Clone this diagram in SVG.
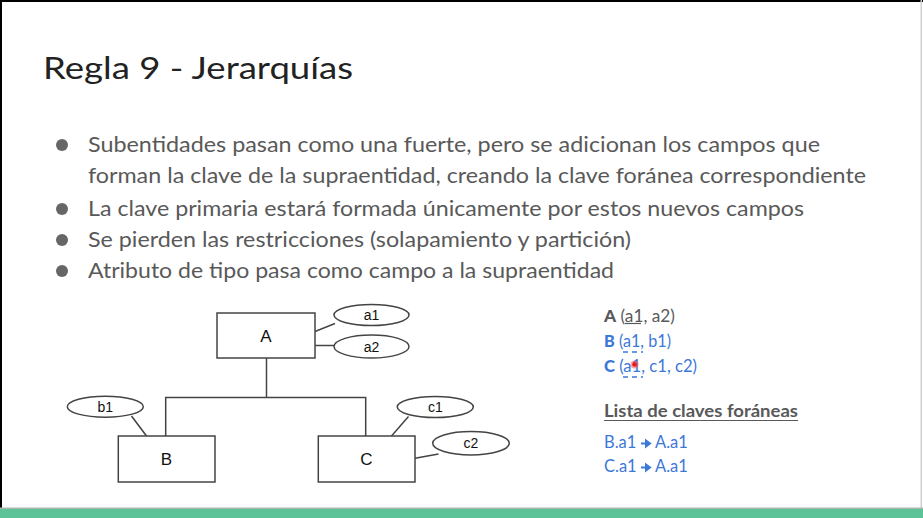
<svg xmlns="http://www.w3.org/2000/svg" width="923" height="518" viewBox="0 0 923 518">
  <style>
    .title { font-family: "Lato", "Open Sans", sans-serif; font-size: 31px; fill: #222222; }
    .bullet-text { font-family: "Lato", "Open Sans", sans-serif; font-size: 21px; fill: #595959; }
    .dot { fill: #666666; }
    .ent { fill: #ffffff; stroke: #444444; stroke-width: 1.5; }
    .attr { fill: #ffffff; stroke: #444444; stroke-width: 1.5; }
    .lbl { font-family: "Liberation Sans", Arial, sans-serif; fill: #111111; text-anchor: middle; }
    .ent-lbl { font-size: 17px; }
    .attr-lbl { font-size: 14px; }
    .conn { stroke: #444444; stroke-width: 1.5; fill: none; }
    .rel { font-family: "Lato", "Open Sans", sans-serif; font-size: 16.5px; }
    .gray { fill: #595959; }
    .blue { fill: #3c78d8; }
    .ul-gray { stroke: #595959; stroke-width: 1.2; }
    .ul-blue { stroke: #3c78d8; stroke-width: 1.5; stroke-dasharray: 5 4; }
  </style>

  <!-- slide background and frame -->
  <rect x="0" y="0" width="923" height="518" fill="#ffffff"/>
  <rect x="0" y="0" width="923" height="2" fill="#000000"/>
  <rect x="0" y="0" width="2" height="518" fill="#000000"/>
  <rect x="920.5" y="0" width="1.5" height="518" fill="#d0d0d0"/>
  <rect x="0" y="507.5" width="923" height="1.5" fill="#a8b8b0"/>
  <rect x="0" y="509" width="923" height="9" fill="#5cc398"/>

  <!-- heading -->
  <text class="title" x="43" y="79" textLength="310" lengthAdjust="spacingAndGlyphs">Regla 9 - Jerarquías</text>

  <!-- bullet list -->
  <g id="bullets">
    <circle class="dot" cx="62" cy="145" r="6"/>
    <text class="bullet-text" x="88" y="152" textLength="732" lengthAdjust="spacingAndGlyphs">Subentidades pasan como una fuerte, pero se adicionan los campos que</text>
    <text class="bullet-text" x="88" y="183" textLength="778" lengthAdjust="spacingAndGlyphs">forman la clave de la supraentidad, creando la clave foránea correspondiente</text>
    <circle class="dot" cx="62" cy="209" r="6"/>
    <text class="bullet-text" x="88" y="215.5" textLength="716" lengthAdjust="spacingAndGlyphs">La clave primaria estará formada únicamente por estos nuevos campos</text>
    <circle class="dot" cx="62" cy="240" r="6"/>
    <text class="bullet-text" x="88" y="247" textLength="543" lengthAdjust="spacingAndGlyphs">Se pierden las restricciones (solapamiento y partición)</text>
    <circle class="dot" cx="62" cy="271" r="6"/>
    <text class="bullet-text" x="88" y="278" textLength="526" lengthAdjust="spacingAndGlyphs">Atributo de tipo pasa como campo a la supraentidad</text>
  </g>

  <!-- connectors of the hierarchy diagram -->
  <g id="connectors">
    <line class="conn" x1="315" y1="331.5" x2="335" y2="323.5"/>
    <line class="conn" x1="315" y1="345.5" x2="334" y2="345.5"/>
    <line class="conn" x1="266.5" y1="358" x2="266.5" y2="397.5"/>
    <polyline class="conn" points="165.7,436 165.7,397.5 365.7,397.5 365.7,436"/>
    <line class="conn" x1="131.5" y1="416" x2="146.5" y2="436"/>
    <line class="conn" x1="408.5" y1="416.5" x2="391.5" y2="436"/>
    <line class="conn" x1="415" y1="458.3" x2="438.5" y2="454"/>
  </g>

  <!-- entities -->
  <g id="entity-A">
    <rect class="ent" x="217" y="313" width="98" height="45"/>
    <text class="lbl ent-lbl" x="266" y="342">A</text>
  </g>
  <g id="entity-B">
    <rect class="ent" x="118.3" y="436" width="96.7" height="46"/>
    <text class="lbl ent-lbl" x="166.5" y="465">B</text>
  </g>
  <g id="entity-C">
    <rect class="ent" x="318.3" y="436" width="96.7" height="46"/>
    <text class="lbl ent-lbl" x="366.5" y="465">C</text>
  </g>

  <!-- attributes -->
  <g id="attr-a1">
    <ellipse class="attr" cx="371.5" cy="315" rx="37.5" ry="10.5"/>
    <text class="lbl attr-lbl" x="371.5" y="320">a1</text>
  </g>
  <g id="attr-a2">
    <ellipse class="attr" cx="371.5" cy="346.5" rx="37.5" ry="11.5"/>
    <text class="lbl attr-lbl" x="371.5" y="351.5">a2</text>
  </g>
  <g id="attr-b1">
    <ellipse class="attr" cx="105.3" cy="406.7" rx="38" ry="10.5"/>
    <text class="lbl attr-lbl" x="105.3" y="411.7">b1</text>
  </g>
  <g id="attr-c1">
    <ellipse class="attr" cx="435.3" cy="407" rx="38" ry="10.5"/>
    <text class="lbl attr-lbl" x="435.3" y="412">c1</text>
  </g>
  <g id="attr-c2">
    <ellipse class="attr" cx="471" cy="443.3" rx="38.3" ry="11.7"/>
    <text class="lbl attr-lbl" x="471" y="448.3">c2</text>
  </g>

  <!-- relational schema -->
  <g id="schema">
    <text class="rel gray" x="604" y="322" textLength="71" lengthAdjust="spacingAndGlyphs"><tspan font-weight="900">A</tspan> (a1, a2)</text>
    <line class="ul-gray" x1="625" y1="323.5" x2="641" y2="323.5"/>
    <text class="rel blue" x="604" y="347" textLength="67" lengthAdjust="spacingAndGlyphs"><tspan font-weight="900">B</tspan> (a1, b1)</text>
    <line class="ul-blue" x1="623" y1="352" x2="643" y2="352"/>
    <text class="rel blue" x="604" y="372" textLength="93" lengthAdjust="spacingAndGlyphs"><tspan font-weight="900">C</tspan> (a1, c1, c2)</text>
    <line class="ul-blue" x1="623" y1="377" x2="643" y2="377"/>
    <circle cx="634.5" cy="364.5" r="4" fill="#ff4a4a" opacity="0.5"/>
    <circle cx="634.5" cy="364.5" r="2.3" fill="#e81818"/>
  </g>

  <!-- foreign key list -->
  <g id="fk-list">
    <text class="rel gray" x="604" y="417" font-weight="bold" textLength="194" lengthAdjust="spacingAndGlyphs">Lista de claves foráneas</text>
    <line class="ul-gray" x1="604" y1="420.5" x2="798" y2="420.5"/>
    <text class="rel blue" x="604" y="448">B.a1</text>
    <path d="M641,443.5 h6 M646,440.5 l4,3 l-4,3 z" stroke="#3c78d8" stroke-width="2" fill="#3c78d8"/>
    <text class="rel blue" x="655" y="448">A.a1</text>
    <text class="rel blue" x="604" y="472">C.a1</text>
    <path d="M641,467.5 h6 M646,464.5 l4,3 l-4,3 z" stroke="#3c78d8" stroke-width="2" fill="#3c78d8"/>
    <text class="rel blue" x="655" y="472">A.a1</text>
  </g>
</svg>
